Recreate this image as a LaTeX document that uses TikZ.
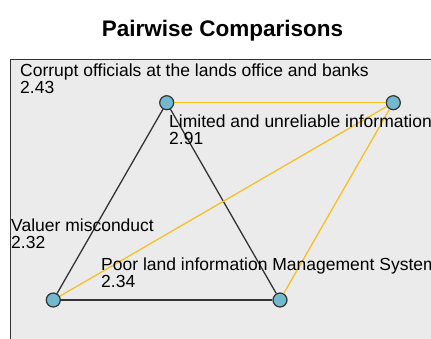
\documentclass[tikz,border=0pt]{standalone}
\usepackage{fontspec}
\setmainfont{Liberation Sans}
\usetikzlibrary{positioning}
\definecolor{panelgray}{HTML}{EBEBEB}
\definecolor{nodeblue}{HTML}{72B8CF}
\definecolor{linkgold}{HTML}{F5C024}
\definecolor{linkdark}{HTML}{333333}

\begin{document}
\begin{tikzpicture}[x=1pt,y=-1pt,
	crit/.style={circle,draw=linkdark,fill=nodeblue,line width=1.2pt,minimum size=14pt,inner sep=0pt},
	strong/.style={draw=linkdark,line width=1.3pt},
	weak/.style={draw=linkgold,line width=1.3pt},
	lab/.style={anchor=base west,inner sep=0pt,align=left,font=\fontsize{17.5}{16.5}\selectfont}]
	\useasboundingbox (0,0) rectangle (431,338);
	\clip (0,0) rectangle (431,338);
	\node[anchor=base,inner sep=0pt,font=\fontsize{22.5}{24}\selectfont\bfseries] (title) at (222.5,36) {Pairwise Comparisons};
	\draw[linkdark,fill=panelgray,line width=1.2pt] (10.5,59.5) rectangle (445,350);
	% criteria
	\node[crit] (corrupt) at (166.7,102.7) {};
	\node[crit] (limited) at (393.3,102.7) {};
	\node[crit] (valuer) at (53.3,300) {};
	\node[crit] (poorlims) at (280,300) {};
	% comparisons
	\draw[strong] (corrupt) -- (valuer);
	\draw[strong] (corrupt) -- (poorlims);
	\draw[strong] (valuer) -- (poorlims);
	\draw[weak] (corrupt) -- (limited);
	\draw[weak] (limited) -- (valuer);
	\draw[weak] (limited) -- (poorlims);
	% scores
	\node[lab] (corruptlab) at (20,93) {Corrupt officials at the lands office and banks\\2.43};
	\node[lab] (limitedlab) at (169,144) {Limited and unreliable information\\2.91};
	\node[lab] (valuerlab) at (11,248) {Valuer misconduct\\2.32};
	\node[lab] (poorlimslab) at (101,287) {Poor land information Management System\\2.34};
\end{tikzpicture}
\end{document}
